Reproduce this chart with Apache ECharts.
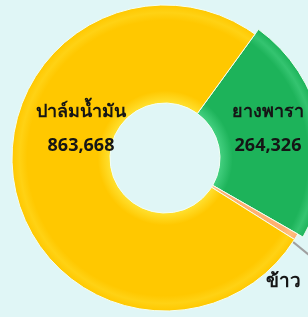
<!DOCTYPE html>
<html>
<head>
<meta charset="utf-8">
<script src="https://cdn.jsdelivr.net/npm/echarts@6/dist/echarts.min.js"></script>
<style>
  html, body { margin: 0; padding: 0; background: #e0f6f6; }
  #main { width: 308px; height: 317px; }
</style>
</head>
<body>
<div id="main"></div>
<script>
// ข้อมูลพื้นที่ปลูก (ค่าข้าวอ่านจากภาพโดยประมาณ)
var names = ['ยางพารา', 'ข้าว', 'ปาล์มน้ำมัน'];
var values = [264326, 7500, 863668];

var cx = 165, cy = 158;
var rIn = 55, rOut = 153, rGreen = 159;

// แสงเงาแบบนูน ไล่สีจากจุดศูนย์กลาง
function bevel(light, rim, base, r) {
  var a = rIn / r;
  return {
    type: 'radial', x: cx, y: cy, r: r, global: true,
    colorStops: [
      { offset: 0, color: light },
      { offset: a, color: light },
      { offset: a + 0.08, color: base },
      { offset: 0.9, color: base },
      { offset: 0.95, color: rim },
      { offset: 1, color: base }
    ]
  };
}
var fills = [
  bevel('#44d080', '#34c470', '#1db35a', rGreen),
  bevel('#ffc890', '#ffc080', '#ffb070', rOut),
  bevel('#ffe030', '#ffd214', '#ffc800', rOut)
];

// ตำแหน่งป้ายชื่อ
var labelPos = [[268, 129], [283, 282], [81, 129]];

var chart = echarts.init(document.getElementById('main'));
var option = {
  backgroundColor: '#e0f6f6',
  animation: false,
  series: [{
    // ชิ้นยางพาราที่นูนออกมามากกว่า
    type: 'pie',
    silent: true,
    center: [cx, cy],
    radius: [rIn, rGreen],
    startAngle: 54,
    label: { show: false },
    labelLine: { show: false },
    itemStyle: { borderColor: '#f4fff4', borderWidth: 1 },
    data: names.map(function (n, i) {
      return { name: n, value: values[i], itemStyle: i === 0 ? { color: fills[0] } : { color: 'transparent', borderColor: 'transparent' } };
    })
  }, {
    type: 'pie',
    center: [cx, cy],
    radius: [rIn, rOut],
    startAngle: 54,
    clockwise: true,
    avoidLabelOverlap: false,
    itemStyle: { borderColor: '#f4fff4', borderWidth: 1 },
    label: {
      show: true,
      position: 'inside',
      color: '#151515',
      fontSize: 18,
      fontWeight: 'bold',
      fontFamily: 'Tahoma, "Noto Sans", sans-serif',
      lineHeight: 34,
      formatter: function (p) { return p.name + '\n' + p.value.toLocaleString('en-US'); }
    },
    labelLine: { show: false },
    labelLayout: function (p) {
      var pos = labelPos[p.dataIndex];
      var out = { x: pos[0], y: pos[1], align: 'center', verticalAlign: 'middle' };
      if (p.dataIndex === 1) {
        out.labelLinePoints = [[255, 211], [330, 272], [330, 272]];
      }
      return out;
    },
    data: names.map(function (n, i) {
      var d = { name: n, value: values[i], itemStyle: { color: fills[i] } };
      if (i === 0) {
        d.itemStyle.color = 'transparent';
        d.itemStyle.borderColor = 'transparent';
      }
      if (i === 1) {
        d.label = { position: 'outside', formatter: '{b}', fontSize: 19 };
        d.labelLine = { show: true, lineStyle: { color: '#a0a0a0', width: 2 } };
      }
      return d;
    })
  }]
};
chart.setOption(option);
</script>
</body>
</html>
